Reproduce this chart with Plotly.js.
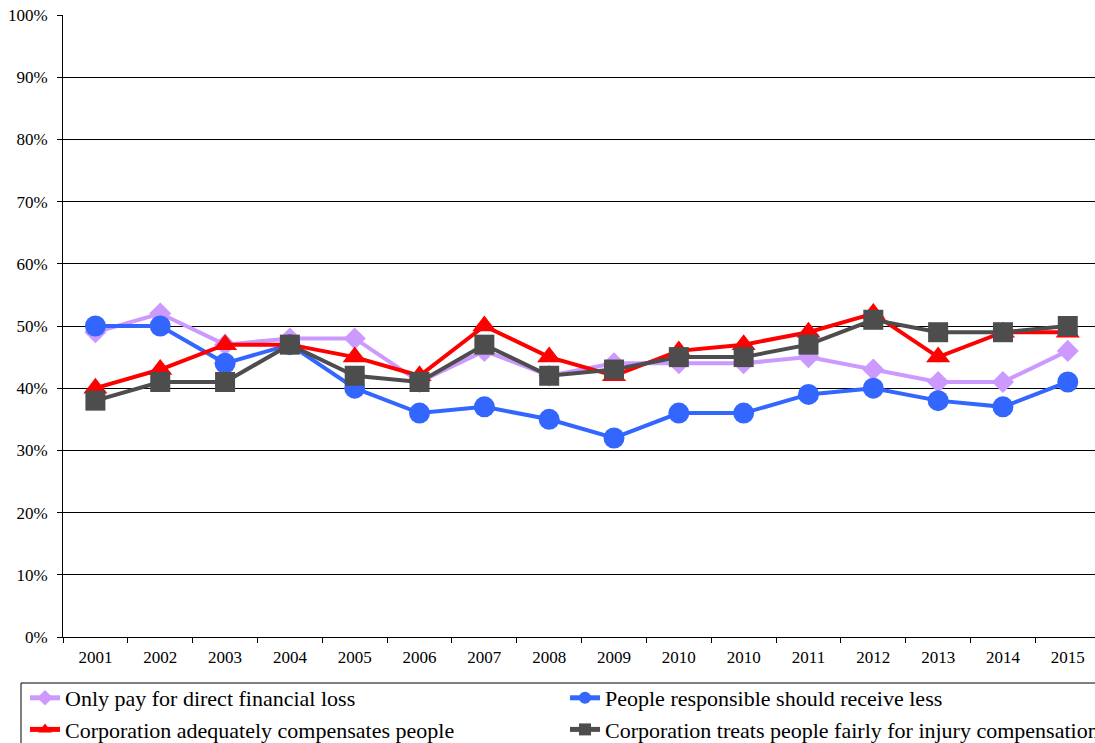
<!DOCTYPE html>
<html>
<head>
<meta charset="utf-8">
<script src="https://cdn.plot.ly/plotly-3.0.1.min.js"></script>
<style>
  html, body { margin: 0; padding: 0; background: #fff; }
  #chart { width: 1095px; height: 743px; }
</style>
</head>
<body>
<div id="chart"></div>
<script>
// Survey years (2010 was asked twice)
const years = ['2001', '2002', '2003', '2004', '2005', '2006', '2007', '2008',
               '2009', '2010', '2010', '2011', '2012', '2013', '2014', '2015'];

// Share agreeing with each statement, in percent
const directLoss   = [49, 52, 47, 48, 48, 41, 46, 42, 44, 44, 44, 45, 43, 41, 41, 46];
const receiveLess  = [50, 50, 44, 47, 40, 36, 37, 35, 32, 36, 36, 39, 40, 38, 37, 41];
const adequately   = [40, 43, 47, 47, 45, 42, 50, 45, 42, 46, 47, 49, 52, 45, 49, 49];
const fairlyTreats = [38, 41, 41, 47, 42, 41, 47, 42, 43, 45, 45, 47, 51, 49, 49, 50];

const seriesNames = [
  'Only pay for direct financial loss',
  'People responsible should receive less',
  'Corporation adequately compensates people',
  'Corporation treats people fairly for injury compensation'
];

const yTicks = [0, 10, 20, 30, 40, 50, 60, 70, 80, 90, 100];
const yTickText = yTicks.map(v => v + '%');

// Years are repeated, so plot against positions and label them afterwards
const pos = years.map((_, i) => i);

function series(name, values, color, symbol, size, legendId) {
  return {
    type: 'scatter',
    mode: 'lines+markers',
    name: name,
    x: pos,
    y: values,
    legend: legendId,
    line: { color: color, width: 4 },
    marker: { color: color, symbol: symbol, size: size, line: { width: 0 } },
    hoverinfo: 'skip'
  };
}

const traces = [
  series(seriesNames[0], directLoss,   '#CC99FF', 'diamond',     17, 'legend'),
  series(seriesNames[1], receiveLess,  '#3366FF', 'circle',      21, 'legend2'),
  series(seriesNames[2], adequately,   '#FF0000', 'triangle-up', 21, 'legend'),
  series(seriesNames[3], fairlyTreats, '#4D4D4D', 'square',      20, 'legend2')
];

const serif = 'Liberation Serif, Times New Roman, serif';
const W = 1095, H = 743;
const plotL = 63, plotT = 15, plotB = 106;

// Legend column placement (pixels from the top-left of the page)
const legendTop = 677;
const legendBoxLeft = 21, legendBoxTop = 683;

// Each column is a wrapping horizontal legend, one entry per row
function legendAt(px) {
  return {
    orientation: 'h',
    xref: 'container',
    yref: 'container',
    x: px / W,
    y: 1 - legendTop / H,
    xanchor: 'left',
    yanchor: 'top',
    entrywidth: 500,
    entrywidthmode: 'pixels',
    itemsizing: 'constant',
    borderwidth: 0,
    bgcolor: 'rgba(0,0,0,0)',
    font: { family: serif, size: 22, color: '#000000' },
    traceorder: 'normal'
  };
}

// The frame round both legend columns, in paper units of the plot area
const plotW = W - plotL;
const plotH = H - plotT - plotB;
const frame = {
  type: 'rect',
  xref: 'paper',
  yref: 'paper',
  x0: (legendBoxLeft - plotL) / plotW,
  x1: (W + 10 - plotL) / plotW,
  y0: -(H + 10 - (H - plotB)) / plotH,
  y1: -(legendBoxTop - (H - plotB)) / plotH,
  line: { color: '#000000', width: 1 },
  fillcolor: 'rgba(0,0,0,0)',
  layer: 'below'
};

const layout = {
  width: W,
  height: H,
  margin: { l: plotL, r: 0, t: plotT, b: plotB },
  paper_bgcolor: '#ffffff',
  plot_bgcolor: '#ffffff',
  font: { family: serif, color: '#000000', size: 17 },
  showlegend: true,
  shapes: [frame],
  xaxis: {
    range: [-0.5, 15.42],
    tickmode: 'array',
    tickvals: pos,
    ticktext: years,
    ticks: '',
    ticklabelstandoff: 5,
    showgrid: false,
    zeroline: false,
    showline: true,
    linecolor: '#000000',
    linewidth: 1,
    tickfont: { family: serif, size: 17, color: '#000000' },
    minor: {
      tickmode: 'linear',
      tick0: -0.5,
      dtick: 1,
      ticks: 'outside',
      ticklen: 5,
      tickcolor: '#000000',
      tickwidth: 1,
      showgrid: false
    },
    fixedrange: true
  },
  yaxis: {
    range: [0, 100],
    tickmode: 'array',
    tickvals: yTicks,
    ticktext: yTickText,
    ticks: 'outside',
    ticklen: 5,
    ticklabelstandoff: 6,
    tickcolor: '#000000',
    showgrid: true,
    gridcolor: '#000000',
    gridwidth: 1,
    zeroline: false,
    showline: true,
    linecolor: '#000000',
    linewidth: 1,
    tickfont: { family: serif, size: 17, color: '#000000' },
    fixedrange: true
  },
  legend: legendAt(25),
  legend2: legendAt(565)
};

Plotly.newPlot('chart', traces, layout, { displayModeBar: false, staticPlot: true });
</script>
</body>
</html>
